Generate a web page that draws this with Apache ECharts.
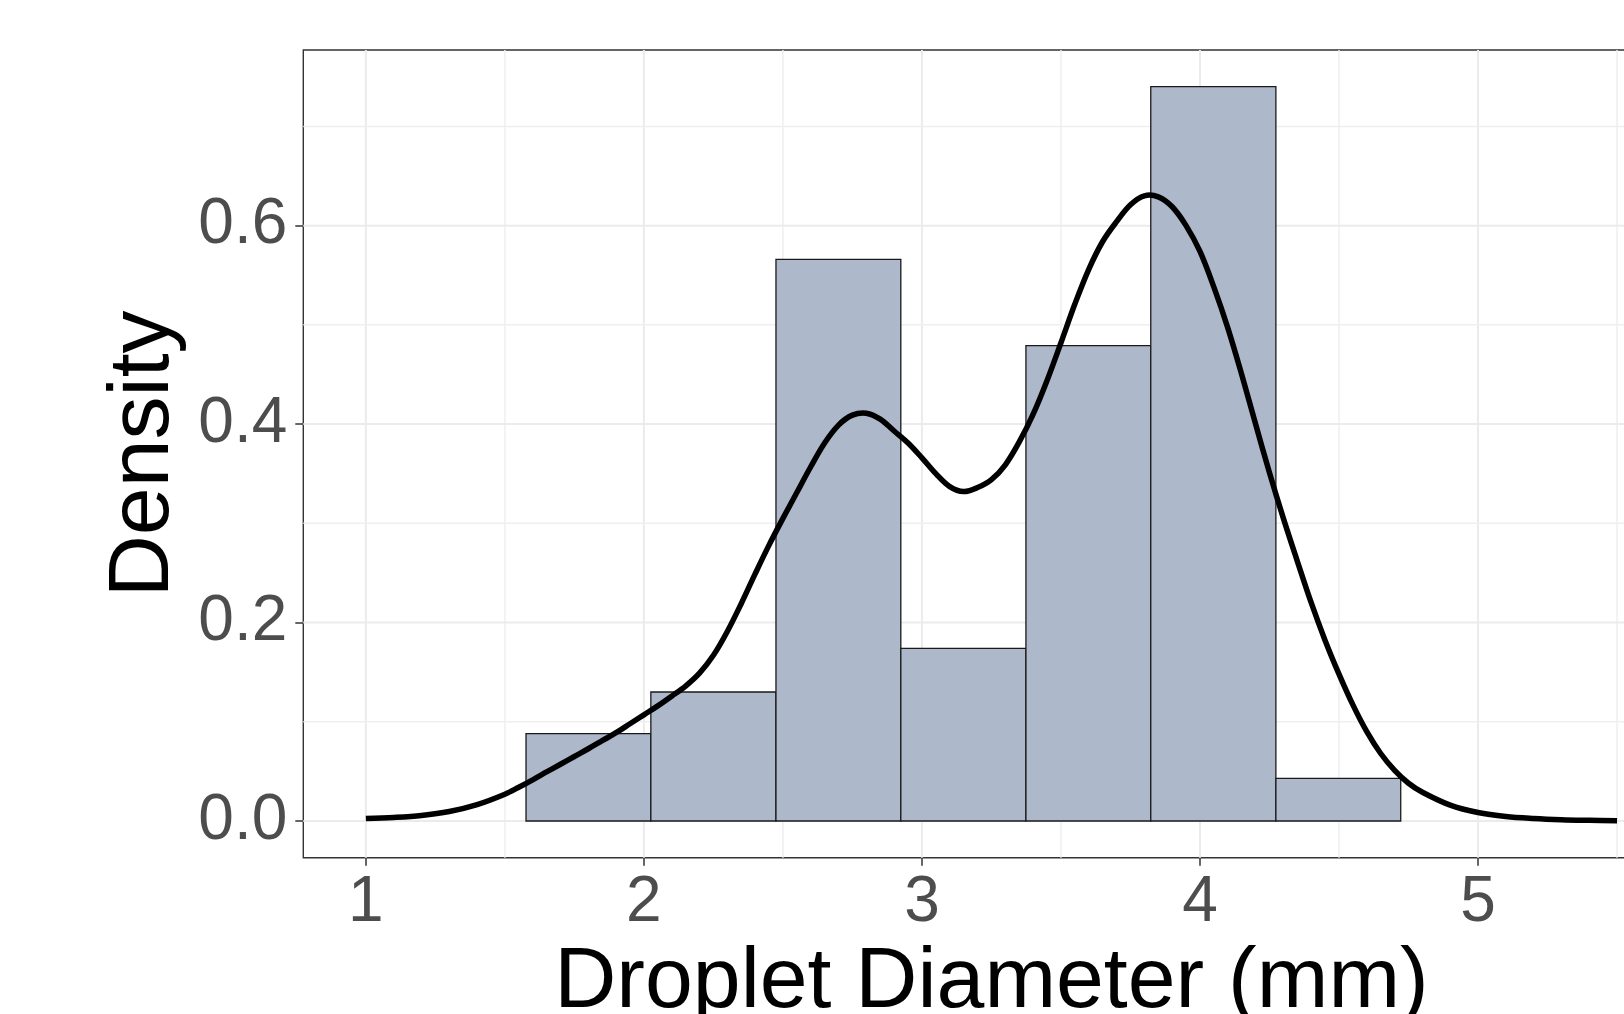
<!DOCTYPE html>
<html>
<head>
<meta charset="utf-8">
<script src="https://cdn.jsdelivr.net/npm/echarts/dist/echarts.min.js"></script>
<style>
  html, body { margin: 0; padding: 0; background: #ffffff; }
  #chart { width: 1624px; height: 1014px; }
</style>
</head>
<body>
<div id="chart"></div>
<script>
// ---- data ----
const binEdges = [1.576, 2.025, 2.475, 2.924, 3.374, 3.823, 4.273, 4.722];
const binDensity = [0.088, 0.130, 0.566, 0.174, 0.479, 0.740, 0.043];

const curveX = [1.00, 1.10, 1.20, 1.30, 1.40, 1.50, 1.55, 1.60, 1.65, 1.70, 1.75, 1.80, 1.85, 1.90, 1.95, 2.00, 2.05, 2.10, 2.15, 2.20, 2.25, 2.30, 2.35, 2.40, 2.45, 2.50, 2.55, 2.60, 2.65, 2.70, 2.75, 2.80, 2.85, 2.90, 2.95, 3.00, 3.05, 3.10, 3.15, 3.20, 3.25, 3.30, 3.35, 3.40, 3.45, 3.50, 3.55, 3.60, 3.65, 3.70, 3.75, 3.80, 3.85, 3.90, 3.95, 4.00, 4.05, 4.10, 4.15, 4.20, 4.25, 4.30, 4.35, 4.40, 4.45, 4.50, 4.55, 4.60, 4.65, 4.70, 4.75, 4.80, 4.90, 5.00, 5.10, 5.20, 5.30, 5.40, 5.50];
const curveY = [0.0024, 0.0035, 0.0055, 0.0095, 0.0165, 0.0270, 0.0340, 0.0415, 0.0494, 0.0572, 0.0650, 0.0728, 0.0809, 0.0890, 0.0980, 0.1070, 0.1160, 0.1258, 0.1360, 0.1490, 0.1670, 0.1910, 0.2190, 0.2490, 0.2780, 0.3050, 0.3310, 0.3570, 0.3810, 0.3990, 0.4090, 0.4110, 0.4050, 0.3930, 0.3810, 0.3660, 0.3500, 0.3370, 0.3320, 0.3360, 0.3440, 0.3590, 0.3820, 0.4100, 0.4440, 0.4820, 0.5210, 0.5560, 0.5840, 0.6040, 0.6210, 0.6300, 0.6290, 0.6190, 0.6000, 0.5740, 0.5380, 0.4970, 0.4500, 0.4000, 0.3510, 0.3050, 0.2620, 0.2200, 0.1820, 0.1480, 0.1170, 0.0900, 0.0680, 0.0510, 0.0380, 0.0290, 0.0160, 0.0085, 0.0045, 0.0025, 0.0013, 0.0007, 0.0003];

const xTicks = [1, 2, 3, 4, 5];
const xMinorGrid = [1.5, 2.5, 3.5, 4.5, 5.5];
const yTicks = [0, 0.2, 0.4, 0.6];
const yMinorGrid = [0.1, 0.3, 0.5, 0.7];

const xRange = [0.775, 5.725];
const yRange = [-0.037, 0.777];

const xTitle = 'Droplet Diameter (mm)';
const yTitle = 'Density';

// ---- build ----
const FONT = '"Liberation Sans", Arial, Helvetica, sans-serif';
const histData = binDensity.map((d, i) => [binEdges[i], binEdges[i + 1], d]);
const curveData = curveX.map((x, i) => [x, curveY[i]]);

const gridData = [];
xTicks.forEach(v => gridData.push([v, 0, 0, 1]));
xMinorGrid.forEach(v => gridData.push([v, 0, 0, 0]));
yTicks.forEach(v => gridData.push([xRange[0], v, 1, 1]));
yMinorGrid.forEach(v => gridData.push([xRange[0], v, 1, 0]));

const chart = echarts.init(document.getElementById('chart'), null, { renderer: 'canvas' });

chart.setOption({
  backgroundColor: '#ffffff',
  animation: false,
  grid: {
    left: 303.3, top: 50, width: 1376.3, height: 807.7,
    outerBoundsMode: 'none',
    containLabel: false,
    show: true, backgroundColor: '#ffffff', borderColor: '#333333', borderWidth: 1.4
  },
  xAxis: {
    type: 'value', min: xRange[0], max: xRange[1],
    axisLine: { show: false, onZero: false },
    splitLine: { show: false },
    axisTick: { show: true, length: 8, customValues: xTicks, lineStyle: { color: '#333333', width: 1.5 } },
    axisLabel: {
      show: true, customValues: xTicks, margin: 14,
      color: '#4d4d4d', fontSize: 64, fontFamily: FONT,
      formatter: v => String(v)
    },
    name: xTitle, nameLocation: 'middle', nameGap: 80,
    nameTextStyle: { color: '#000000', fontSize: 86, fontFamily: FONT }
  },
  yAxis: {
    type: 'value', min: yRange[0], max: yRange[1],
    axisLine: { show: false, onZero: false },
    splitLine: { show: false },
    axisTick: { show: true, length: 8, customValues: yTicks, lineStyle: { color: '#333333', width: 1.5 } },
    axisLabel: {
      show: true, customValues: yTicks, margin: 16,
      color: '#4d4d4d', fontSize: 64, fontFamily: FONT,
      formatter: v => v.toFixed(1)
    },
    name: yTitle, nameLocation: 'middle', nameGap: 108, nameRotate: 90,
    nameTextStyle: { color: '#000000', fontSize: 86, fontFamily: FONT }
  },
  series: [
    {
      type: 'custom', z: 1, silent: true,
      data: gridData,
      encode: { x: 0, y: 1 },
      renderItem: (params, api) => {
        const horiz = api.value(2) === 1;
        const major = api.value(3) === 1;
        let p0, p1;
        if (horiz) {
          p0 = api.coord([xRange[0], api.value(1)]);
          p1 = api.coord([xRange[1], api.value(1)]);
        } else {
          p0 = api.coord([api.value(0), yRange[0]]);
          p1 = api.coord([api.value(0), yRange[1]]);
        }
        return {
          type: 'line',
          shape: { x1: p0[0], y1: p0[1], x2: p1[0], y2: p1[1] },
          style: { stroke: major ? '#ebebeb' : '#efefef', lineWidth: major ? 2 : 1.5 }
        };
      }
    },
    {
      type: 'custom', z: 2, silent: true,
      data: histData,
      encode: { x: [0, 1], y: 2 },
      renderItem: (params, api) => {
        const pTop = api.coord([api.value(0), api.value(2)]);
        const pBot = api.coord([api.value(1), 0]);
        return {
          type: 'rect',
          shape: { x: pTop[0], y: pTop[1], width: pBot[0] - pTop[0], height: pBot[1] - pTop[1] },
          style: { fill: '#adb8ca', stroke: '#1a1a1a', lineWidth: 1.3 }
        };
      }
    },
    {
      // density curve: one smooth polyline through all points, placed via the axes
      type: 'custom', z: 3, silent: true,
      data: curveData,
      encode: { x: 0, y: 1 },
      renderItem: (params, api) => {
        if (params.dataIndex !== 0) return null;
        const pts = curveData.map(p => api.coord(p));
        return {
          type: 'polyline',
          shape: { points: pts, smooth: 0.35 },
          style: { stroke: '#000000', lineWidth: 5.5, fill: null, lineJoin: 'round', lineCap: 'butt' }
        };
      }
    }
  ]
});
</script>
</body>
</html>
